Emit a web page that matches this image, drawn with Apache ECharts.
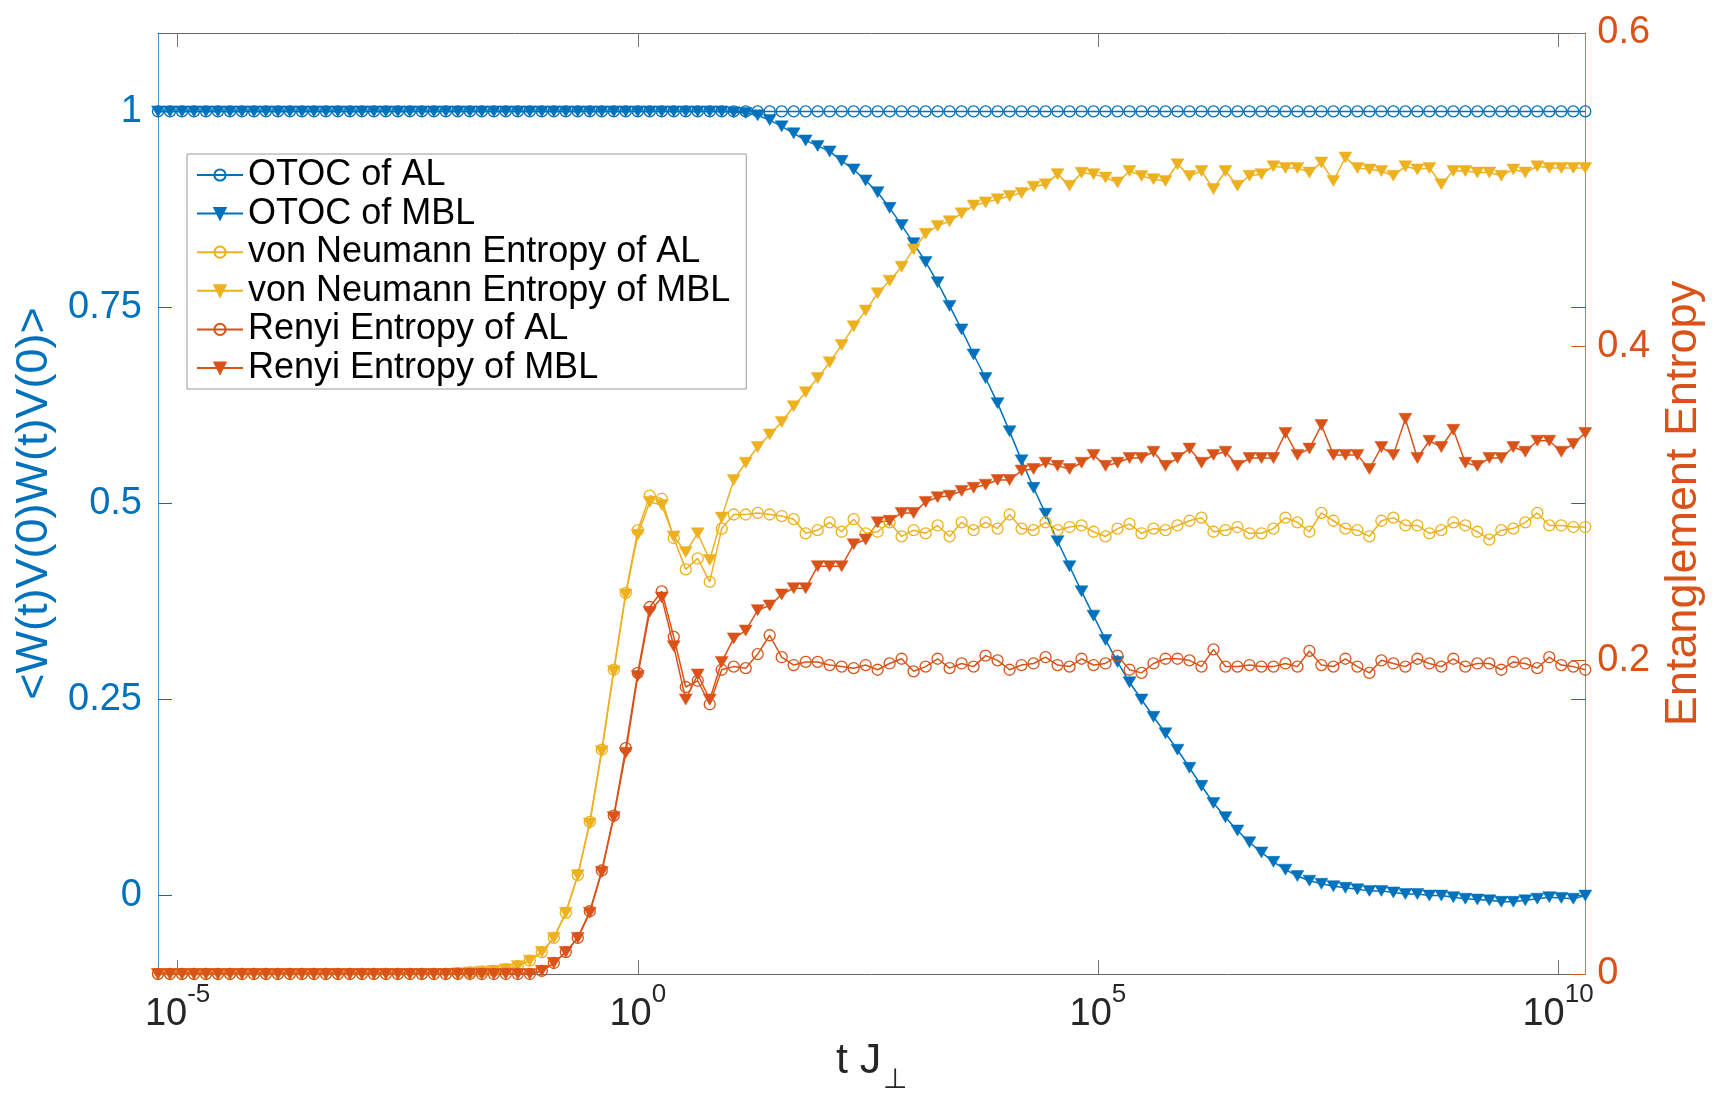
<!DOCTYPE html>
<html><head><meta charset="utf-8">
<script src="https://cdn.jsdelivr.net/npm/echarts@6/dist/echarts.min.js"></script>
<style>html,body{margin:0;padding:0;background:#fff}#c{width:1714px;height:1099px}</style>
</head><body><div id="c"></div>
<script>
// time grid: t = timeBase ^ n
const timeBase = 1.35;
const stepIndex = [
 -40,-39,-38,-37,-36,-35,-34,-33,-32,-31,
 -30,-29,-28,-27,-26,-25,-24,-23,-22,-21,
 -20,-19,-18,-17,-16,-15,-14,-13,-12,-11,
 -10,-9,-8,-7,-6,-5,-4,-3,-2,-1,
 0,1,2,3,4,5,6,7,8,9,
 10,11,12,13,14,15,16,17,18,19,
 20,21,22,23,24,25,26,27,28,29,
 30,31,32,33,34,35,36,37,38,39,
 40,41,42,43,44,45,46,47,48,49,
 50,51,52,53,54,55,56,57,58,59,
 60,61,62,63,64,65,66,67,68,69,
 70,71,72,73,74,75,76,77,78,79];

const xTickExponents = [-5, 0, 5, 10];
const leftTicks = [0, 0.25, 0.5, 0.75, 1];
const rightTicks = [0, 0.2, 0.4, 0.6];

const seriesNames = ['OTOC of AL','OTOC of MBL','von Neumann Entropy of AL','von Neumann Entropy of MBL','Renyi Entropy of AL','Renyi Entropy of MBL'];

const otocAL = [
 1,1,1,1,1,1,1,1,1,1, 1,1,1,1,1,1,1,1,1,1, 1,1,1,1,1,1,1,1,1,1, 1,1,1,1,1,1,1,1,1,1,
 1,1,1,1,1,1,1,1,1,1, 1,1,1,1,1,1,1,1,1,1, 1,1,1,1,1,1,1,1,1,1, 1,1,1,1,1,1,1,1,1,1,
 1,1,1,1,1,1,1,1,1,1, 1,1,1,1,1,1,1,1,1,1, 1,1,1,1,1,1,1,1,1,1, 1,1,1,1,1,1,1,1,1,1];

const otocMBL = [
 1,1,1,1,1,1,1,1,1,1,
 1,1,1,1,1,1,1,1,1,1,
 1,1,1,1,1,1,1,1,1,1,
 1,1,1,1,1,1,1,1,1,1,
 1,1,1,1,1,1,1,1,0.999,0.998,
 0.995,0.989,0.981,0.972,0.963,0.956,0.949,0.937,0.926,0.912,
 0.897,0.877,0.855,0.832,0.808,0.782,0.752,0.722,0.69,0.66,
 0.628,0.592,0.555,0.52,0.487,0.452,0.42,0.388,0.357,0.326,
 0.298,0.272,0.25,0.228,0.207,0.186,0.163,0.14,0.118,0.1,
 0.083,0.068,0.055,0.043,0.033,0.025,0.019,0.015,0.012,0.01,
 0.008,0.006,0.006,0.004,0.002,0.002,0,0,-0.002,-0.004,
 -0.005,-0.006,-0.008,-0.008,-0.006,-0.004,-0.002,-0.003,-0.004,0];

const vnAL = [
 0,0,0,0,0,0,0,0,0,0,
 0,0,0,0,0,0,0,0,0,0,
 0,0,0,0,0,0.0005,0.001,0.0015,0.002,0.003,
 0.005,0.0085,0.014,0.023,0.039,0.063,0.097,0.143,0.194,0.243,
 0.283,0.305,0.303,0.278,0.258,0.265,0.25,0.284,0.293,0.293,
 0.294,0.293,0.292,0.290,0.281,0.283,0.288,0.282,0.290,0.281,
 0.282,0.288,0.279,0.283,0.281,0.286,0.279,0.288,0.283,0.288,
 0.284,0.293,0.284,0.283,0.288,0.283,0.285,0.286,0.282,0.279,
 0.284,0.287,0.281,0.284,0.283,0.286,0.289,0.291,0.282,0.283,
 0.285,0.281,0.281,0.284,0.291,0.288,0.282,0.294,0.289,0.284,
 0.283,0.279,0.289,0.291,0.286,0.286,0.281,0.283,0.288,0.286,
 0.282,0.277,0.283,0.284,0.288,0.294,0.286,0.286,0.285,0.285];

const vnMBL = [
 0,0,0,0,0,0,0,0,0,0,
 0,0,0,0,0,0,0,0,0,0,
 0,0,0,0,0,0.0005,0.001,0.0015,0.002,0.003,
 0.005,0.0085,0.014,0.023,0.039,0.063,0.096,0.142,0.193,0.242,
 0.280,0.301,0.299,0.279,0.269,0.281,0.264,0.291,0.315,0.326,
 0.336,0.344,0.352,0.362,0.371,0.38,0.39,0.401,0.413,0.423,
 0.434,0.442,0.451,0.462,0.472,0.477,0.48,0.485,0.49,0.492,
 0.494,0.496,0.498,0.502,0.5035,0.510,0.5026,0.5109,0.510,0.5078,
 0.5047,0.512,0.5089,0.5068,0.5057,0.5163,0.5089,0.512,0.5005,0.512,
 0.5026,0.509,0.510,0.515,0.514,0.514,0.511,0.5174,0.5057,0.5206,
 0.514,0.513,0.512,0.509,0.515,0.513,0.514,0.5036,0.512,0.512,
 0.511,0.511,0.509,0.513,0.511,0.515,0.514,0.514,0.514,0.514];

const renyiAL = [
 0,0,0,0,0,0,0,0,0,0,
 0,0,0,0,0,0,0,0,0,0,
 0,0,0,0,0,0,0,0,0,0,
 0,0,0.002,0.007,0.014,0.023,0.04,0.066,0.101,0.144,
 0.192,0.234,0.244,0.215,0.183,0.187,0.172,0.194,0.196,0.195,
 0.204,0.216,0.202,0.197,0.199,0.199,0.197,0.196,0.195,0.197,
 0.194,0.198,0.201,0.193,0.196,0.201,0.195,0.198,0.196,0.203,
 0.200,0.194,0.197,0.198,0.202,0.197,0.196,0.201,0.197,0.198,
 0.203,0.194,0.192,0.198,0.201,0.201,0.200,0.196,0.207,0.196,
 0.196,0.197,0.196,0.196,0.198,0.196,0.206,0.197,0.196,0.201,
 0.196,0.192,0.200,0.198,0.196,0.201,0.198,0.196,0.201,0.196,
 0.198,0.198,0.194,0.199,0.198,0.195,0.202,0.197,0.196,0.194];

const renyiMBL = [
 0,0,0,0,0,0,0,0,0,0,
 0,0,0,0,0,0,0,0,0,0,
 0,0,0,0,0,0,0,0,0,0,
 0,0,0.002,0.007,0.014,0.023,0.039,0.065,0.10,0.141,
 0.19,0.231,0.24,0.209,0.175,0.191,0.175,0.199,0.214,0.219,
 0.232,0.235,0.242,0.246,0.246,0.26,0.26,0.26,0.274,0.277,
 0.288,0.289,0.294,0.294,0.301,0.304,0.305,0.308,0.31,0.312,
 0.315,0.315,0.321,0.322,0.326,0.324,0.322,0.326,0.331,0.324,
 0.326,0.329,0.329,0.333,0.324,0.329,0.335,0.326,0.331,0.333,
 0.324,0.329,0.329,0.329,0.345,0.331,0.335,0.350,0.331,0.331,
 0.331,0.322,0.336,0.331,0.354,0.329,0.340,0.336,0.347,0.326,
 0.324,0.329,0.329,0.336,0.333,0.340,0.340,0.333,0.338,0.345];

const BLUE = '#0072BD', YEL = '#EDB120', RED = '#D95319';
const FONT = 'Liberation Sans, Arial, Helvetica, sans-serif';
const logT = stepIndex.map(n => n * Math.log10(timeBase));
const pts = arr => logT.map((x, i) => [x, arr[i]]);

const circle = 'circle';
const tri = 'path://M0,0L10,0L5,8.66Z';

function mk(name, arr, color, marker, yIdx) {
  const isCircle = marker === 'o';
  return {
    name, type: 'line', yAxisIndex: yIdx, data: pts(arr),
    symbol: isCircle ? circle : tri,
    symbolSize: isCircle ? 11 : [13, 11],
    showSymbol: true, showAllSymbol: true,
    lineStyle: { color, width: 1.5 },
    itemStyle: isCircle ? { color: 'rgba(255,255,255,0)', borderColor: color, borderWidth: 1.3 }
                        : { color, borderColor: color, borderWidth: 0.5 },
    emphasis: { disabled: true }, silent: true, animation: false
  };
}

const lens = [otocAL, otocMBL, vnAL, vnMBL, renyiAL, renyiMBL].map(a => a.length);
const bad = lens.some(l => l !== stepIndex.length);

const chart = echarts.init(document.getElementById('c'), null, { renderer: 'canvas' });
const xMin = logT[0], xMax = logT[logT.length - 1];
const supFmt = v => '{b|10}{s|' + v + '}';

chart.setOption({
  backgroundColor: '#fff',
  animation: false,
  title: bad ? { text: 'LEN ' + lens.join(','), left: 600, top: 500 } : undefined,
  grid: { left: 158, top: 33, width: 1435, height: 944, containLabel: false },
  legend: {
    orient: 'vertical', left: 187, top: 154,
    data: seriesNames,
    itemWidth: 46, itemHeight: 14, itemGap: 2.6,
    padding: [3, 16, 3, 9],
    borderColor: '#9a9a9a', borderWidth: 1, backgroundColor: '#fff',
    textStyle: { fontFamily: FONT, fontSize: 36, lineHeight: 36, color: '#000' }
  },
  xAxis: [{
    type: 'value', position: 'bottom', min: xMin, max: xMax,
    axisLine: { show: true, onZero: false, lineStyle: { color: '#666', width: 1 } },
    axisTick: { show: true, inside: true, length: 14, customValues: xTickExponents, lineStyle: { color: '#777', width: 1 } },
    axisLabel: { show: true, customValues: xTickExponents, margin: 8, formatter: supFmt,
      rich: {
        b: { fontFamily: FONT, fontSize: 38, color: '#262626', verticalAlign: 'bottom', padding: [14, 0, 0, 0] },
        s: { fontFamily: FONT, fontSize: 26, color: '#262626', verticalAlign: 'top' }
      } },
    splitLine: { show: false },
    name: '{a|t J}{u|⊥}', nameLocation: 'middle', nameGap: 66,
    nameTextStyle: { rich: {
      a: { fontFamily: FONT, fontSize: 43, color: '#262626', verticalAlign: 'top' },
      u: { fontFamily: FONT, fontSize: 28, color: '#262626', verticalAlign: 'bottom', padding: [26, 0, 0, 2] }
    } }
  }, {
    type: 'value', position: 'top', min: xMin, max: xMax,
    axisLine: { show: true, onZero: false, lineStyle: { color: '#666', width: 1 } },
    axisTick: { show: true, inside: true, length: 14, customValues: xTickExponents, lineStyle: { color: '#777', width: 1 } },
    axisLabel: { show: false }, splitLine: { show: false }
  }],
  yAxis: [{
    type: 'value', position: 'left', min: -0.1, max: 1.1,
    axisLine: { show: true, onZero: false, lineStyle: { color: '#4a90c8', width: 1 } },
    axisTick: { show: true, inside: true, length: 14, customValues: leftTicks, lineStyle: { color: BLUE, width: 1 } },
    axisLabel: { show: true, customValues: leftTicks, margin: 16, color: BLUE, fontFamily: FONT, fontSize: 38,
      formatter: v => String(v) },
    splitLine: { show: false },
    name: '<W(t)V(0)W(t)V(0)>', nameLocation: 'middle', nameGap: 88, nameRotate: 90,
    nameTextStyle: { color: BLUE, fontFamily: FONT, fontSize: 45 }
  }, {
    type: 'value', position: 'right', min: 0, max: 0.6, interval: 0.2,
    axisLine: { show: true, onZero: false, lineStyle: { color: '#c07a5e', width: 1 } },
    axisTick: { show: true, inside: true, length: 14, lineStyle: { color: RED, width: 1 } },
    axisLabel: { show: true, margin: 12, color: RED, fontFamily: FONT, fontSize: 38,
      formatter: v => v === 0 ? '0' : v.toFixed(1) },
    splitLine: { show: false },
    name: 'Entanglement Entropy', nameLocation: 'middle', nameGap: 73, nameRotate: 90,
    nameTextStyle: { color: RED, fontFamily: FONT, fontSize: 45 }
  }, {
    type: 'value', position: 'right', min: -0.1, max: 1.1,
    axisLine: { show: false, onZero: false },
    axisTick: { show: true, inside: true, length: 14, customValues: leftTicks, lineStyle: { color: BLUE, width: 1 } },
    axisLabel: { show: false }, splitLine: { show: false }
  }],
  series: [
    mk(seriesNames[0], otocAL, BLUE, 'o', 0),
    mk(seriesNames[1], otocMBL, BLUE, 'v', 0),
    mk(seriesNames[2], vnAL, YEL, 'o', 1),
    mk(seriesNames[3], vnMBL, YEL, 'v', 1),
    mk(seriesNames[4], renyiAL, RED, 'o', 1),
    mk(seriesNames[5], renyiMBL, RED, 'v', 1)
  ]
});
</script>
</body></html>
